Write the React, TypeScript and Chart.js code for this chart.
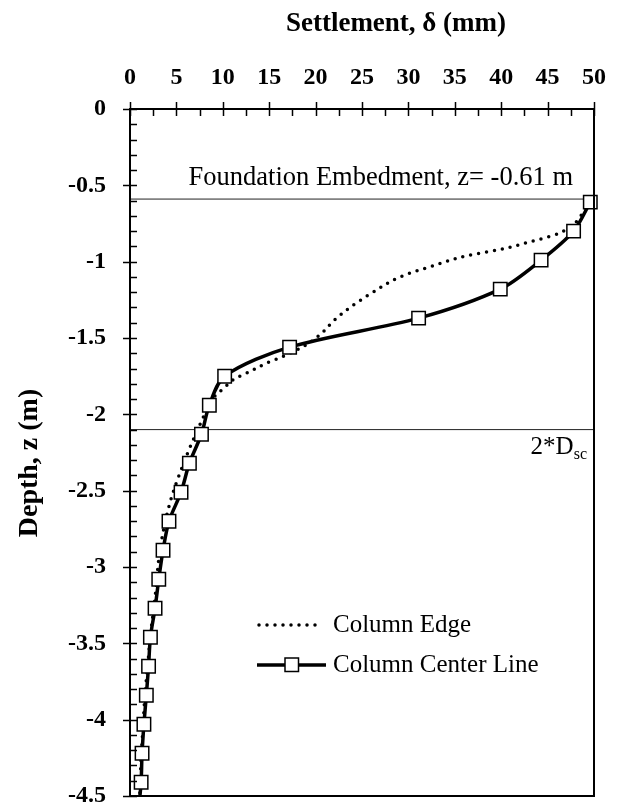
import React, { useEffect, useRef } from 'react';
import { Chart, registerables } from 'chart.js';

Chart.register(...registerables);

// ---- data ----
const centerSettlement = [49.6, 47.8, 44.3, 39.9, 31.1, 17.2, 10.2, 8.55, 7.7, 6.4, 5.5, 4.2, 3.56, 3.1, 2.7, 2.2, 2.0, 1.76, 1.5, 1.3, 1.2, 1.07];
const centerDepth = [-0.61, -0.8, -0.99, -1.18, -1.37, -1.56, -1.75, -1.94, -2.13, -2.32, -2.51, -2.7, -2.89, -3.08, -3.27, -3.46, -3.65, -3.84, -4.03, -4.22, -4.41, -4.5];
const centerMarker = [true, true, true, true, true, true, true, true, true, true, true, true, true, true, true, true, true, true, true, true, true, false];

const edgeSettlement = [49.6, 48.7, 47.3, 45.5, 43.1, 39.9, 36.4, 32.5, 29.1, 26.2, 23.7, 21.9, 20.8, 19.0, 16.5, 14.7, 12.9, 11.1, 10.1, 9.3, 8.3, 7.3, 6.5, 5.6, 4.7, 4.0, 3.6, 3.1, 2.7, 2.2, 1.9, 1.6, 1.4, 1.2, 1.05];
const edgeDepth = [-0.61, -0.69, -0.78, -0.83, -0.87, -0.92, -0.96, -1.03, -1.1, -1.2, -1.3, -1.39, -1.46, -1.545, -1.62, -1.665, -1.72, -1.775, -1.83, -1.87, -1.97, -2.1, -2.21, -2.35, -2.5, -2.65, -2.76, -2.95, -3.2, -3.45, -3.65, -3.85, -4.05, -4.25, -4.5];

const embedmentDepth = -0.59;
const dscDepth = -2.1;
const xRange = [0, 50];
const yRange = [-4.5, 0];
const xStep = 5;
const yStep = 0.5;
const seriesNames = ['Column Edge', 'Column Center Line'];
const xTitle = 'Settlement, δ (mm)';
const yTitle = 'Depth, z (m)';
const embedLabel = 'Foundation Embedment, z= -0.61 m';
const dscLabel = ['2*D', 'sc'];

const FONT = "'Liberation Serif', 'Times New Roman', serif";

const decor = {
  id: 'decor',
  afterDatasetsDraw(chart: any) {
    const { ctx, chartArea: a, scales } = chart;
    const x = scales.x;
    const y = scales.y;
    ctx.save();
    // box
    ctx.strokeStyle = '#000';
    ctx.lineWidth = 2;
    ctx.strokeRect(a.left, a.top, a.right - a.left, a.bottom - a.top);
    // tick marks
    ctx.beginPath();
    ctx.lineWidth = 1.5;
    for (let i = 0; i <= (xRange[1] - xRange[0]) / 2.5; i++) {
      const v = xRange[0] + i * 2.5;
      const px = Math.round(x.getPixelForValue(v)) + 0.5;
      const major = i % 2 === 0;
      ctx.moveTo(px, a.top - (major ? 7 : 0));
      ctx.lineTo(px, a.top + 7);
    }
    for (let i = 0; i <= 45; i++) {
      const v = -i / 10;
      const py = Math.round(y.getPixelForValue(v)) + 0.5;
      const major = i % 5 === 0;
      ctx.moveTo(a.left - (major ? 7 : 0), py);
      ctx.lineTo(a.left + 7, py);
    }
    ctx.stroke();

    // axis titles
    ctx.fillStyle = '#000';
    ctx.font = `bold 27px ${FONT}`;
    ctx.textAlign = 'center';
    ctx.textBaseline = 'alphabetic';
    ctx.fillText(xTitle, 396, 31);
    ctx.save();
    ctx.translate(37, 463);
    ctx.rotate(-Math.PI / 2);
    ctx.font = `bold 28px ${FONT}`;
    ctx.fillText(yTitle, 0, 0);
    ctx.restore();

    // annotation labels
    ctx.font = `26.5px ${FONT}`;
    ctx.textAlign = 'right';
    ctx.fillText(embedLabel, 573, y.getPixelForValue(embedmentDepth) - 14);
    ctx.font = `25px ${FONT}`;
    const w1 = ctx.measureText(dscLabel[0]).width;
    ctx.font = `16px ${FONT}`;
    const w2 = ctx.measureText(dscLabel[1]).width;
    const startX = 587 - w1 - w2;
    const by = y.getPixelForValue(dscDepth) + 24;
    ctx.textAlign = 'left';
    ctx.font = `25px ${FONT}`;
    ctx.fillText(dscLabel[0], startX, by);
    ctx.font = `16px ${FONT}`;
    ctx.fillText(dscLabel[1], startX + w1, by + 5);

    // legend
    const ds = chart.data.datasets;
    ctx.font = `25px ${FONT}`;
    ctx.textBaseline = 'middle';
    // row 1: edge
    ctx.save();
    ctx.strokeStyle = ds[1].borderColor;
    ctx.lineWidth = ds[1].borderWidth;
    ctx.lineCap = 'round';
    ctx.setLineDash(ds[1].borderDash);
    ctx.beginPath();
    ctx.moveTo(259, 625);
    ctx.lineTo(318, 625);
    ctx.stroke();
    ctx.restore();
    ctx.fillText(seriesNames[0], 333, 625);
    // row 2: center
    ctx.save();
    ctx.strokeStyle = ds[0].borderColor;
    ctx.lineWidth = ds[0].borderWidth;
    ctx.beginPath();
    ctx.moveTo(257, 665);
    ctx.lineTo(326, 665);
    ctx.stroke();
    ctx.fillStyle = '#fff';
    ctx.lineWidth = 1.5;
    ctx.fillRect(285, 658, 13.5, 13.5);
    ctx.strokeRect(285, 658, 13.5, 13.5);
    ctx.restore();
    ctx.fillText(seriesNames[1], 333, 665);
    ctx.restore();
  },
};

export default function App() {
  const ref = useRef<HTMLCanvasElement>(null);
  useEffect(() => {
    if (!ref.current) return;
    const centerData = centerSettlement.map((v, i) => ({ x: v, y: centerDepth[i] }));
    const edgeData = edgeSettlement.map((v, i) => ({ x: v, y: edgeDepth[i] }));
    const chart = new Chart(ref.current, {
      type: 'scatter',
      data: {
        datasets: [
          {
            label: seriesNames[1],
            data: centerData,
            showLine: true,
            borderColor: '#000',
            borderWidth: 3.5,
            tension: 0.3,
            pointStyle: 'rect',
            pointRadius: centerMarker.map((m) => (m ? 9.5 : 0)),
            pointBackgroundColor: '#fff',
            pointBorderColor: '#000',
            pointBorderWidth: 1.5,
            clip: false,
            order: 0,
          } as any,
          {
            label: seriesNames[0],
            data: edgeData,
            showLine: true,
            indexAxis: 'y',
            borderColor: '#000',
            borderWidth: 3.5,
            borderDash: [0, 8],
            borderCapStyle: 'round',
            cubicInterpolationMode: 'monotone',
            pointRadius: 0,
            order: 1,
          } as any,
          {
            label: 'embedment',
            data: [{ x: xRange[0], y: embedmentDepth }, { x: xRange[1], y: embedmentDepth }],
            showLine: true,
            borderColor: '#222',
            borderWidth: 1,
            pointRadius: 0,
            order: 2,
          },
          {
            label: 'dsc',
            data: [{ x: xRange[0], y: dscDepth }, { x: xRange[1], y: dscDepth }],
            showLine: true,
            borderColor: '#222',
            borderWidth: 1,
            pointRadius: 0,
            order: 2,
          },
        ],
      },
      options: {
        animation: false,
        responsive: false,
        layout: { padding: { left: 0, top: 0, right: 23, bottom: 12 } },
        plugins: { legend: { display: false }, tooltip: { enabled: false }, title: { display: false } },
        scales: {
          x: {
            type: 'linear',
            position: 'top',
            min: xRange[0],
            max: xRange[1],
            ticks: {
              stepSize: xStep,
              color: '#000',
              font: { family: FONT, size: 24, weight: 'bold' },
              padding: 9,
              maxRotation: 0,
              autoSkip: false,
            },
            grid: { display: false },
            border: { display: false },
            afterFit: (s: any) => {
              s.height = 109;
              s.paddingLeft = 0;
              s.paddingRight = 0;
            },
          },
          y: {
            type: 'linear',
            position: 'left',
            min: yRange[0],
            max: yRange[1],
            ticks: {
              stepSize: yStep,
              color: '#000',
              font: { family: FONT, size: 24, weight: 'bold' },
              padding: 16,
              autoSkip: false,
              callback: (v: any) => String(v),
            },
            grid: { display: false },
            border: { display: false },
            afterFit: (s: any) => {
              s.width = 130;
              s.paddingTop = 0;
              s.paddingBottom = 0;
            },
          },
        },
      },
      plugins: [decor],
    });
    return () => chart.destroy();
  }, []);
  return (
    <div style={{ position: 'absolute', left: 0, top: 0, width: 617, height: 808, background: '#fff' }}>
      <canvas ref={ref} width={617} height={808} style={{ display: 'block' }} />
    </div>
  );
}
